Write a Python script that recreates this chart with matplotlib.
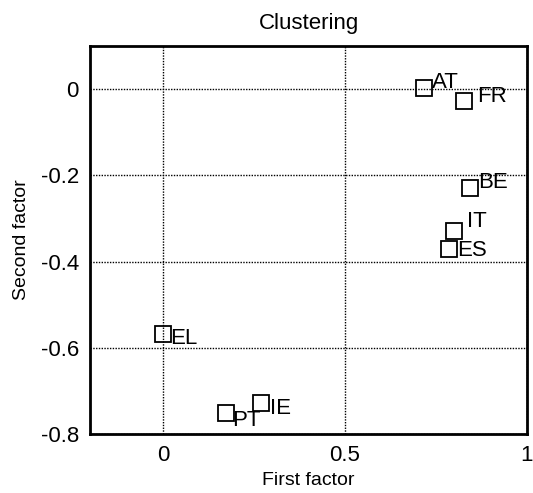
import matplotlib
matplotlib.use('Agg')
import matplotlib.pyplot as plt

countries = ['AT', 'FR', 'BE', 'IT', 'ES', 'EL', 'PT', 'IE']
first_factor = [0.717, 0.828, 0.843, 0.800, 0.785, 0.001, 0.173, 0.269]
second_factor = [0.003, -0.028, -0.229, -0.330, -0.372, -0.569, -0.752, -0.728]

# label offsets in pixels (dx, dy), dy negative = down
offsets = {'AT': (8, 0), 'FR': (13, -1), 'BE': (8, 0), 'IT': (13, 4),
           'ES': (8, -7), 'EL': (7, -10), 'PT': (6, -13), 'IE': (9, -11)}

plt.rcParams['font.family'] = ['Liberation Sans', 'DejaVu Sans']

fig = plt.figure(figsize=(5.33, 4.93), dpi=100)
ax = fig.add_axes([90/533, 1 - 434/493, (527 - 90)/533, (434 - 46)/493])

ax.plot(first_factor, second_factor, 's', markersize=11,
        markerfacecolor='none', markeredgecolor='black', markeredgewidth=1.3)

for name, x, y in zip(countries, first_factor, second_factor):
    dx, dy = offsets[name]
    ax.annotate(name, (x, y), xytext=(dx, dy), textcoords='offset pixels',
                ha='left', va='baseline', fontsize=16)

ax.set_xlim(-0.2, 1)
ax.set_ylim(-0.8, 0.1)
ax.set_xticks([0, 0.5, 1])
ax.set_xticklabels(['0', '0.5', '1'])
ax.set_yticks([0, -0.2, -0.4, -0.6, -0.8])
ax.set_yticklabels(['0', '-0.2', '-0.4', '-0.6', '-0.8'])
ax.tick_params(length=0, labelsize=16, pad=8)
ax.grid(True, color='black', linestyle=(0, (1, 1)), linewidth=1)
for s in ax.spines.values():
    s.set_linewidth(2)

ax.set_title('Clustering', fontsize=16, pad=12)
ax.set_xlabel('First factor', fontsize=14, labelpad=4)
ax.set_ylabel('Second factor', fontsize=14, labelpad=8)

fig.savefig('out.png', dpi=100)
